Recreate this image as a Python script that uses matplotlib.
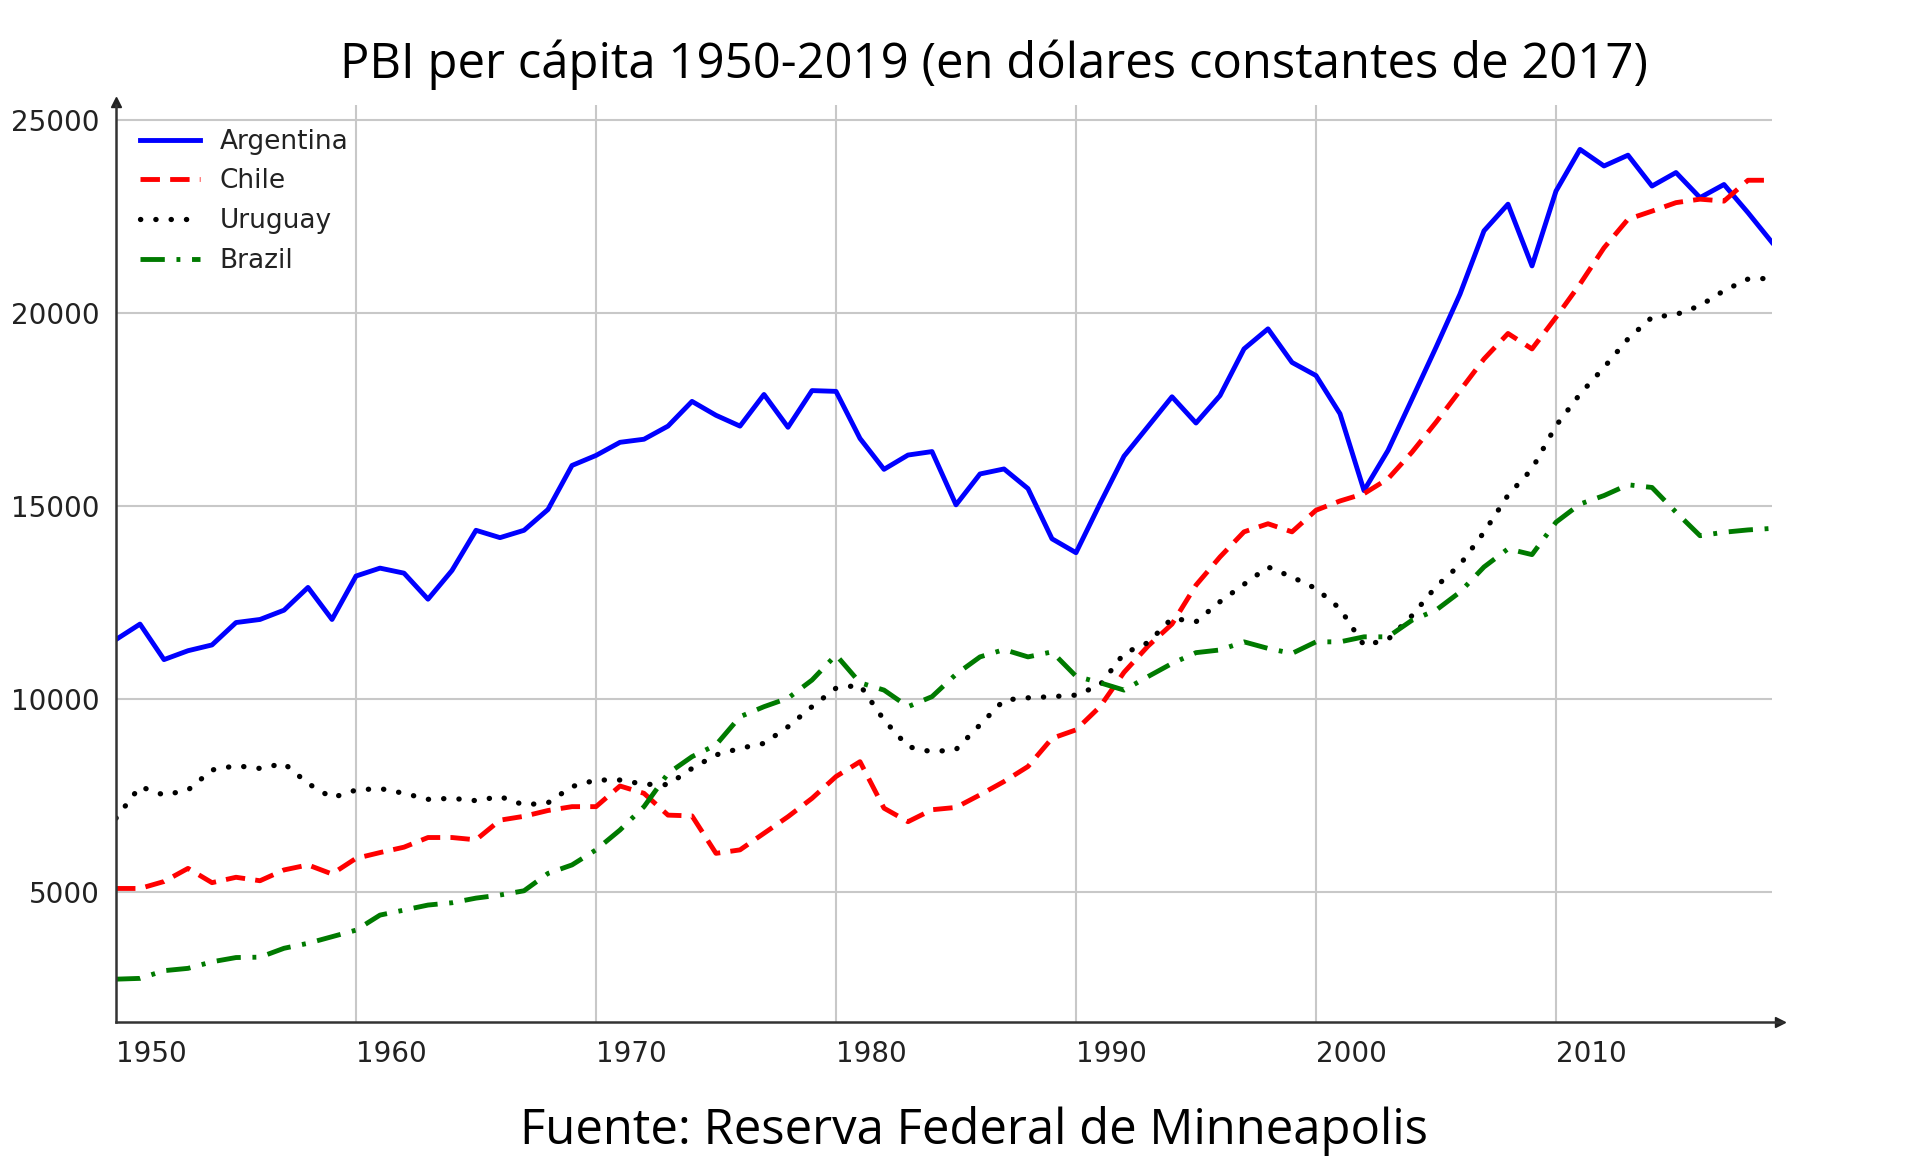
import matplotlib
matplotlib.use("Agg")
import matplotlib.pyplot as plt
import numpy as np

years = list(range(1950, 2020))

argentina = [11550, 11950, 11030, 11260, 11410, 11990, 12070, 12310, 12900, 12070,
             13195, 13400, 13270, 12595, 13340, 14380, 14190, 14380, 14920, 16060,
             16320, 16660, 16740, 17080, 17720, 17360, 17080, 17900, 17050, 18000,
             17980, 16760, 15960, 16330, 16420, 15040, 15840, 15970, 15460, 14160,
             13800, 15070, 16300, 17070, 17840, 17160, 17870, 19080, 19600, 18730,
             18390, 17400, 15410, 16450, 17780, 19120, 20500, 22140, 22830, 21230,
             23170, 24250, 23820, 24100, 23300, 23650, 23000, 23340, 22610, 21840]

chile = [5100, 5100, 5280, 5620, 5250, 5390, 5300, 5580, 5710, 5475,
         5880, 6030, 6170, 6420, 6420, 6360, 6870, 6970, 7120, 7220,
         7220, 7755, 7565, 7000, 6980, 6010, 6100, 6530, 6960, 7435,
         8000, 8385, 7180, 6830, 7140, 7200, 7526, 7870, 8260, 8990,
         9210, 9810, 10700, 11380, 11950, 12960, 13690, 14340, 14550, 14340,
         14900, 15140, 15330, 15715, 16405, 17180, 18000, 18820, 19480, 19080,
         19900, 20760, 21700, 22440, 22650, 22870, 22960, 22910, 23450, 23450]

uruguay = [6920, 7740, 7520, 7650, 8170, 8280, 8210, 8340, 7820, 7450,
           7650, 7690, 7565, 7410, 7435, 7375, 7480, 7265, 7320, 7740,
           7910, 7910, 7800, 7790, 8210, 8560, 8730, 8860, 9290, 9810,
           10290, 10370, 9465, 8775, 8640, 8700, 9340, 9980, 10040, 10070,
           10110, 10370, 11190, 11470, 12100, 12010, 12530, 12980, 13430, 13170,
           12870, 12350, 11400, 11550, 12170, 12920, 13490, 14330, 15290, 15970,
           17090, 17910, 18600, 19340, 19900, 19970, 20200, 20590, 20890, 20910]

brazil = [2750, 2770, 2970, 3030, 3200, 3310, 3320, 3550, 3680, 3850,
          4020, 4410, 4540, 4670, 4730, 4850, 4930, 5040, 5490, 5710,
          6100, 6615, 7220, 8080, 8515, 8820, 9550, 9810, 10030, 10500,
          11150, 10430, 10240, 9810, 10070, 10650, 11100, 11290, 11100, 11230,
          10600, 10430, 10240, 10590, 10930, 11210, 11280, 11490, 11320, 11190,
          11490, 11490, 11620, 11620, 12050, 12310, 12780, 13430, 13900, 13750,
          14590, 15060, 15280, 15560, 15490, 14850, 14240, 14330, 14390, 14430]

series_names = ["Argentina", "Chile", "Uruguay", "Brazil"]
x_ticks = [1950, 1960, 1970, 1980, 1990, 2000, 2010]
y_ticks = [5000, 10000, 15000, 20000, 25000]

title_text = "PBI per cápita 1950-2019 (en dólares constantes de 2017)"
source_text = "Fuente: Reserva Federal de Minneapolis"

fig = plt.figure(figsize=(19.2, 11.7), dpi=100)
ax = fig.add_axes([116/1920, 1 - 1022/1170, (1772-116)/1920, (1022-105)/1170])

LW = 3.5
ax.plot(years, argentina, color="#0000ff", lw=LW, ls="-", label=series_names[0])
ax.plot(years, chile, color="#ff0000", lw=LW, ls=(0, (4.0, 2.1)), label=series_names[1])
ax.plot(years, uruguay, color="#000000", lw=LW + 0.3, ls=(0, (0.05, 2.85)),
        dash_capstyle="round", label=series_names[2])
ax.plot(years, brazil, color="#007a00", lw=LW, ls=(0, (5.0, 2.4, 0.8, 2.4)),
        label=series_names[3])

ax.set_xlim(1950, 2019)
ax.set_ylim(1640, 25400)
ax.set_xticks(x_ticks)
ax.set_yticks(y_ticks)
ax.set_xticklabels([str(t) for t in x_ticks], ha="left", fontsize=20, color="#222222")
ax.set_yticklabels([str(t) for t in y_ticks], fontsize=20, color="#222222")
ax.tick_params(axis="both", length=0)
ax.tick_params(axis="x", pad=13)
ax.tick_params(axis="y", pad=12)

ax.grid(True, color="#c8c8c8", lw=1.5)
ax.set_axisbelow(True)
for s in ["top", "right"]:
    ax.spines[s].set_visible(False)
for s in ["left", "bottom"]:
    ax.spines[s].set_color("#333333")
    ax.spines[s].set_linewidth(1.8)
ax.spines["bottom"].set_bounds(1950, 2019.4)
ax.plot(1.005, 0, ">", color="#222222", ms=7, transform=ax.transAxes, clip_on=False)
ax.plot(0, 1.003, "^", color="#222222", ms=7, transform=ax.transAxes, clip_on=False)

leg = ax.legend(loc="upper left", frameon=False, fontsize=19, handlelength=2.3,
                handletextpad=0.72, labelspacing=0.52, borderaxespad=0.5)
for t in leg.get_texts():
    t.set_color("#222222")

fig.text(994/1920, 1 - 78/1170, title_text, ha="center", va="baseline",
         fontsize=35.3, family=["Open Sans", "DejaVu Sans"], color="#000000")
fig.text(974/1920, 1 - 1144/1170, source_text, ha="center", va="baseline",
         fontsize=35.3, family=["Open Sans", "DejaVu Sans"], color="#000000")

fig.savefig("out.png", dpi=100, facecolor="white")
